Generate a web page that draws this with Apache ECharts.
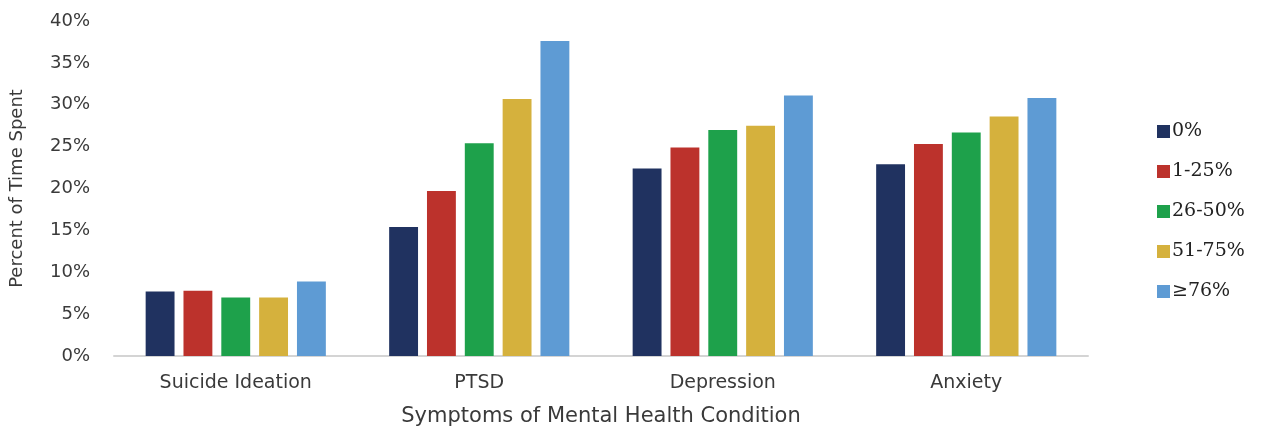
<!DOCTYPE html>
<html>
<head>
<meta charset="utf-8">
<script src="https://cdn.jsdelivr.net/npm/echarts@6/dist/echarts.min.js"></script>
<style>
  html, body { margin: 0; padding: 0; background: #fff; width: 100%; height: 100%; overflow: hidden; }
  #chart { width: 100vw; height: 100vh; }
</style>
</head>
<body>
<div id="chart"></div>
<script>
// Symptom categories along the x axis
const categories = ['Suicide Ideation', 'PTSD', 'Depression', 'Anxiety'];

// Share of time spent, in percent, per group
const seriesNames = ['0%', '1-25%', '26-50%', '51-75%', '\u226576%'];
const values0 = [7.7, 15.4, 22.4, 22.9];
const values1to25 = [7.8, 19.7, 24.9, 25.3];
const values26to50 = [7.0, 25.4, 27.0, 26.7];
const values51to75 = [7.0, 30.7, 27.5, 28.6];
const values76plus = [8.9, 37.6, 31.1, 30.8];
const seriesValues = [values0, values1to25, values26to50, values51to75, values76plus];

const colors = ['#203260', '#BC322C', '#1EA14B', '#D5B13D', '#5E9BD4'];

const chart = echarts.init(document.getElementById('chart'), null, { renderer: 'canvas' });

const axisFont = 'DejaVu Sans';
const textColor = '#3a3a3a';

chart.setOption({
  animation: false,
  color: colors,
  grid: { left: 112, right: 176, top: 21, bottom: 70, containLabel: false },
  legend: {
    orient: 'vertical',
    left: 1157,
    top: 122,
    padding: 0,
    itemWidth: 13,
    itemHeight: 13,
    itemGap: 21,
    icon: 'rect',
    textStyle: { fontFamily: 'DejaVu Serif', fontSize: 19, color: '#222', lineHeight: 18, padding: [0, 0, 0, -3] },
    data: seriesNames
  },
  xAxis: {
    type: 'category',
    data: categories,
    name: 'Symptoms of Mental Health Condition',
    nameLocation: 'middle',
    nameGap: 50,
    nameTextStyle: { fontFamily: axisFont, fontSize: 21, color: textColor },
    axisLine: { lineStyle: { color: '#d4d4d4', width: 2 } },
    axisTick: { show: false },
    axisLabel: { fontFamily: axisFont, fontSize: 19, color: textColor, margin: 18 }
  },
  yAxis: {
    type: 'value',
    min: 0,
    max: 40,
    interval: 5,
    name: 'Percent of Time Spent',
    nameLocation: 'middle',
    nameGap: 88,
    nameTextStyle: { fontFamily: axisFont, fontSize: 18, color: textColor },
    axisLine: { show: false },
    axisTick: { show: false },
    splitLine: { show: false },
    axisLabel: { fontFamily: axisFont, fontSize: 18, color: textColor, margin: 24, formatter: '{value}%' }
  },
  series: seriesNames.map((name, i) => ({
    name: name,
    type: 'bar',
    data: seriesValues[i],
    barGap: '31%',
    barCategoryGap: '26%',
    itemStyle: { color: colors[i] }
  }))
});
window.addEventListener('resize', () => chart.resize());
</script>
</body>
</html>
